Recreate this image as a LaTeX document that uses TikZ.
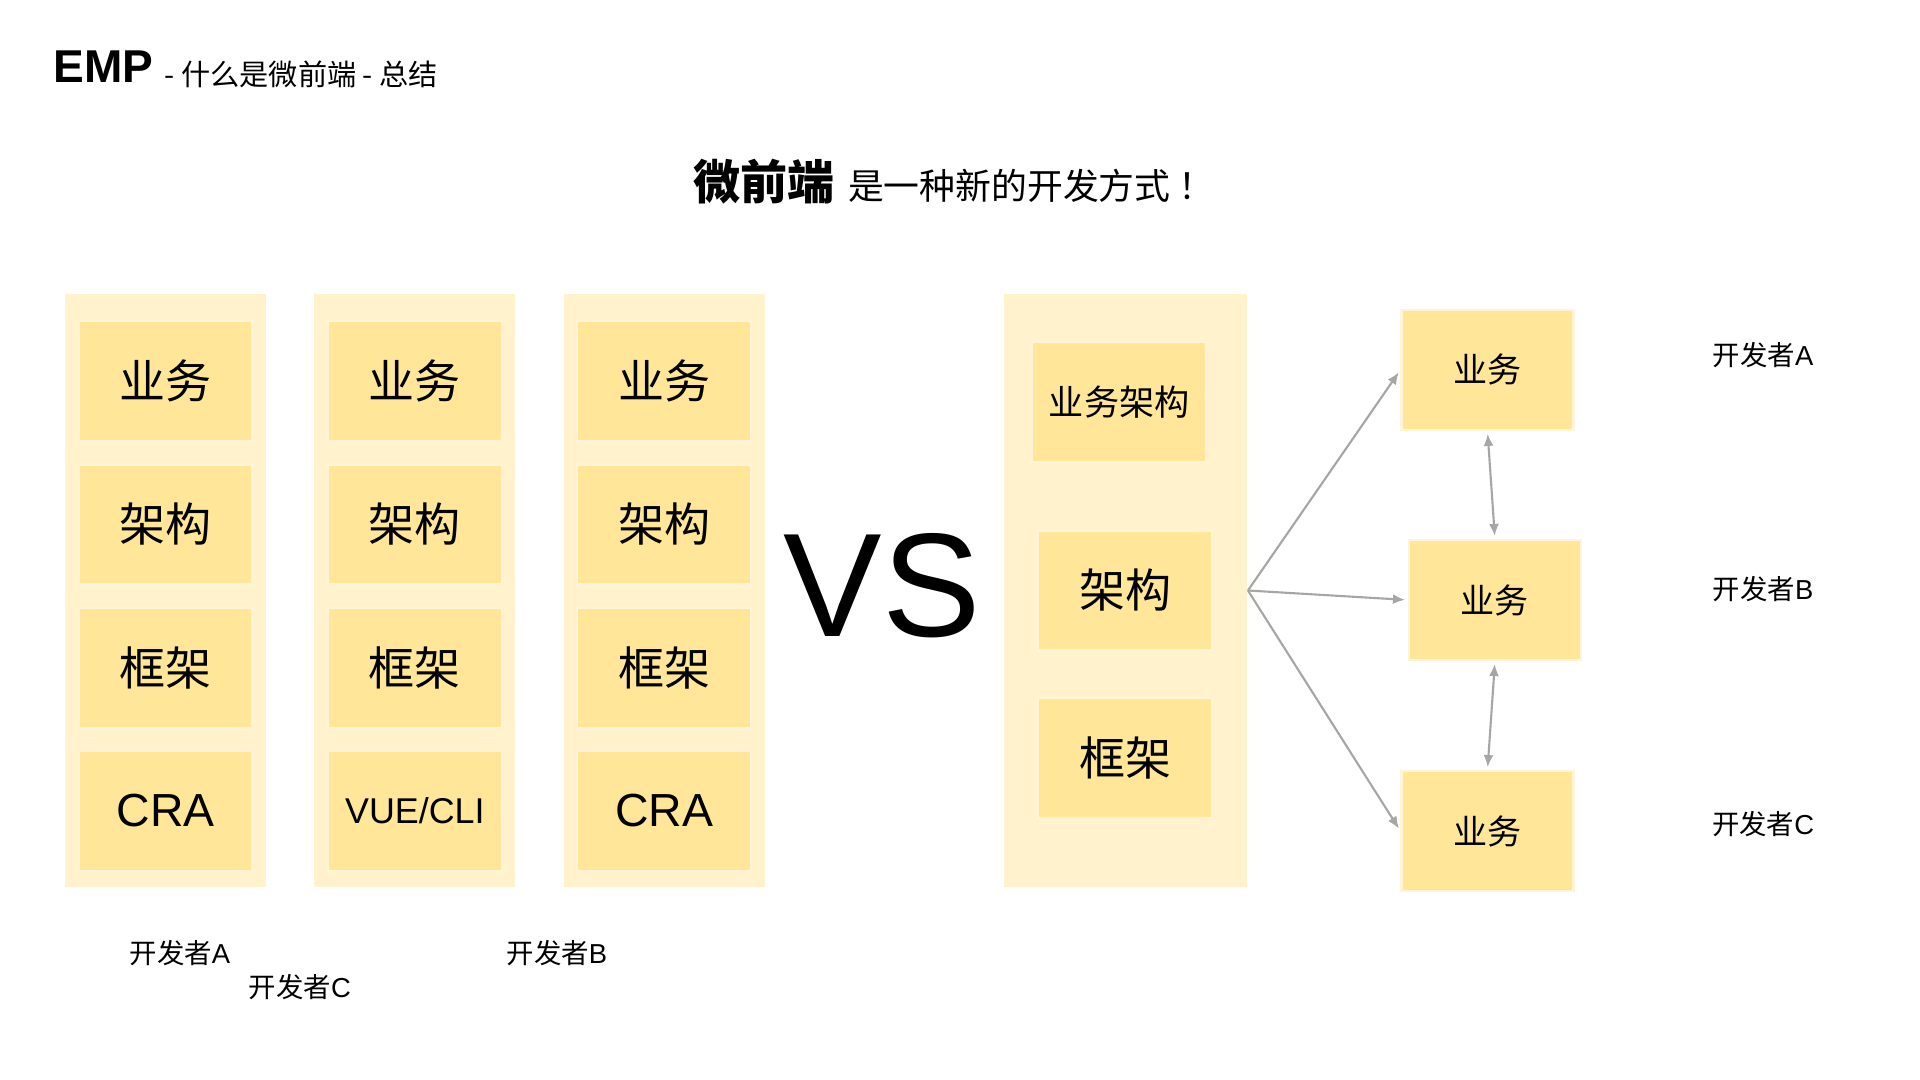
\documentclass[tikz,border=0pt]{standalone}
\usepackage{fontspec}
\setmainfont{Liberation Sans}
\newfontfamily\cjk{Noto Sans CJK SC}
\usepackage{tikz}
\usetikzlibrary{arrows.meta,positioning}
\definecolor{cellgold}{HTML}{FFE699}
\definecolor{cellrim}{HTML}{FFF4D6}
\definecolor{colcream}{HTML}{FFF2CC}
\definecolor{linkgray}{HTML}{A6A6A6}
\tikzset{
    cellbase/.style={
        rectangle,
        draw=cellrim,
        line width=0.6pt,
        fill=cellgold,
        minimum width=1.74cm,
        minimum height=1.20cm,
        inner sep=0pt,
        align=center
    },
    bigcell/.style={cellbase, font=\cjk\fontsize{13.1}{15}\selectfont},
    latincell/.style={cellbase, font=\fontsize{13.2}{15}\selectfont},
    smallcell/.style={cellbase, font=\cjk\fontsize{10}{12}\selectfont},
    midcell/.style={cellbase, minimum width=1.72cm, font=\cjk\fontsize{9.7}{12}\selectfont},
    column/.style={rectangle, fill=colcream, minimum width=2.01cm, minimum height=5.93cm, inner sep=0pt},
    devlabel/.style={inner sep=0pt, font=\fontsize{7.8}{9}\selectfont},
    link/.style={-{Latex[length=0.12cm,width=0.10cm]}, draw=linkgray, line width=0.6pt, shorten >=0.03cm},
    duallink/.style={{Latex[length=0.12cm,width=0.10cm]}-{Latex[length=0.12cm,width=0.10cm]}, draw=linkgray, line width=0.6pt, shorten <=0.03cm, shorten >=0.03cm},
}

\begin{document}
\begin{tikzpicture}
    \fill[white] (0,0) rectangle (19.2,-10.8);
    \useasboundingbox (0,0) rectangle (19.2,-10.8);

    \node[anchor=base west, inner sep=0pt, font=\bfseries\fontsize{13.1}{15}\selectfont] (brand) at (0.53,-0.83) {EMP};
    \node[anchor=base west, inner sep=0pt, font=\cjk\fontsize{8.3}{10}\selectfont] (crumb) at (1.64,-0.86) {- 什么是微前端 - 总结};
    \node[anchor=west, inner sep=0pt, font=\cjk\fontsize{10.2}{12}\selectfont] (headline) at (6.93,-1.82) {{\bfseries\fontsize{13.4}{15}\selectfont 微前端}\hspace{0.05cm} 是一种新的开发方式\hspace{0.08cm}！};

    \node[column] (colA) at (1.655,-5.905) {};
    \node[column, right=0.47cm of colA] (colB) {};
    \node[column, right=0.47cm of colB] (colC) {};

    \node[bigcell, below=0.27cm of colA.north] (aBiz) {业务};
    \node[bigcell, below=0.21cm of aBiz] (aArch) {架构};
    \node[bigcell, below=0.21cm of aArch] (aFrame) {框架};
    \node[latincell, below=0.21cm of aFrame] (aTool) {CRA};

    \node[bigcell, below=0.27cm of colB.north] (bBiz) {业务};
    \node[bigcell, below=0.21cm of bBiz] (bArch) {架构};
    \node[bigcell, below=0.21cm of bArch] (bFrame) {框架};
    \node[latincell, below=0.21cm of bFrame, font=\fontsize{10.2}{12}\selectfont] (bTool) {VUE/CLI};

    \node[bigcell, below=0.27cm of colC.north] (cBiz) {业务};
    \node[bigcell, below=0.21cm of cBiz] (cArch) {架构};
    \node[bigcell, below=0.21cm of cArch] (cFrame) {框架};
    \node[latincell, below=0.21cm of cFrame] (cTool) {CRA};

    \node[devlabel] (devA1) at (1.80,-9.53) {{\cjk 开发者}A};
    \node[devlabel] (devC1) at (3.00,-9.87) {{\cjk 开发者}C};
    \node[devlabel] (devB1) at (5.57,-9.53) {{\cjk 开发者}B};

    \node[font=\fontsize{42}{48}\selectfont] (versus) at (8.82,-5.86) {VS};

    \node[column, minimum width=2.43cm, right=2.38cm of colC] (panel) {};
    \node[smallcell, below=0.48cm of panel.north, xshift=-0.065cm] (pBizArch) {业务架构};
    \node[bigcell, below=0.66cm of pBizArch, xshift=0.06cm] (pArch) {架构};
    \node[bigcell, below=0.45cm of pArch] (pFrame) {框架};

    \node[midcell, right=1.60cm of panel.east, yshift=-0.095cm] (bizB) {业务};
    \node[midcell, above=1.08cm of bizB, xshift=-0.075cm] (bizA) {业务};
    \node[midcell, below=1.09cm of bizB, xshift=-0.075cm] (bizC) {业务};

    \node[devlabel] (devA2) at (17.63,-3.55) {{\cjk 开发者}A};
    \node[devlabel] (devB2) at (17.63,-5.89) {{\cjk 开发者}B};
    \node[devlabel] (devC2) at (17.63,-8.24) {{\cjk 开发者}C};

    \draw[link] (panel.east) -- (bizA.west);
    \draw[link] (panel.east) -- (bizB.west);
    \draw[link] (panel.east) -- (bizC.west);
    \draw[duallink] (bizA.south) -- (bizB.north);
    \draw[duallink] (bizB.south) -- (bizC.north);
\end{tikzpicture}
\end{document}
